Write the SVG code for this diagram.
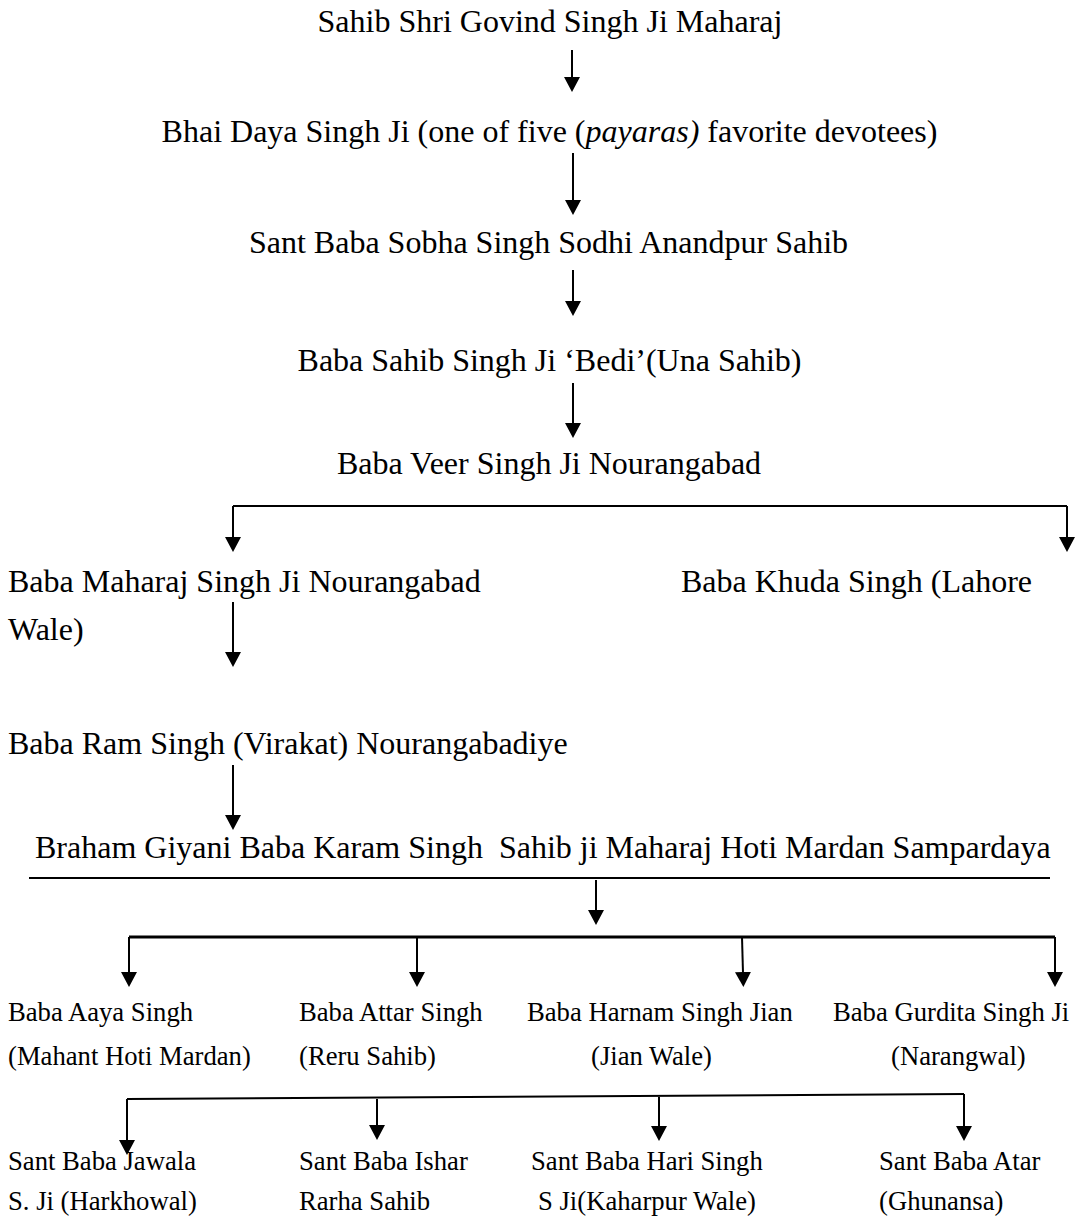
<svg xmlns="http://www.w3.org/2000/svg" width="1078" height="1217" viewBox="0 0 1078 1217">
<style>
  text { font-family: "Liberation Serif", "Times New Roman", serif; fill: #000; }
  .t { font-size: 32px; }
  .c { text-anchor: middle; }
  .s { font-size: 26.67px; }
  .ln { stroke: #000; stroke-width: 2; fill: none; }
  .ar { stroke: #000; stroke-width: 2; fill: none; marker-end: url(#ah); }
</style>
<defs>
  <marker id="ah" viewBox="0 0 15 16" refX="1" refY="8" markerWidth="15" markerHeight="16" markerUnits="userSpaceOnUse" orient="auto">
    <path d="M0,0 L15,8 L0,16 Z" fill="#000"/>
  </marker>
</defs>
<rect width="1078" height="1217" fill="#fff"/>

<g id="connectors">
  <path class="ar" d="M572,50 V78"/>
  <path class="ar" d="M573,153 V201"/>
  <path class="ar" d="M573,270 V302"/>
  <path class="ar" d="M573,383 V424"/>
  <path class="ln" d="M233,506 H1067"/>
  <path class="ar" d="M233,506 V538"/>
  <path class="ar" d="M1067,506 V538"/>
  <path class="ar" d="M233,602 V653"/>
  <path class="ar" d="M233,765 V816"/>
  <path class="ln" d="M29,878 H1050"/>
  <path class="ar" d="M596,880 V911"/>
  <path class="ln" d="M129,937 H1055" style="stroke-width:3"/>
  <path class="ar" d="M129,937 V973"/>
  <path class="ar" d="M417,937 V973"/>
  <path class="ar" d="M742,937 L743,973"/>
  <path class="ar" d="M1055,937 V973"/>
  <path class="ln" d="M127,1099 L964,1094"/>
  <path class="ar" d="M127,1099 V1141"/>
  <path class="ar" d="M377,1099 V1126"/>
  <path class="ar" d="M659,1097 V1127"/>
  <path class="ar" d="M964,1094 V1127"/>
</g>

<g id="n1"><text class="t c" x="550" y="32">Sahib Shri Govind Singh Ji Maharaj</text></g>
<g id="n2"><text class="t c" x="549.5" y="142">Bhai Daya Singh Ji (one of five (<tspan font-style="italic">payaras)</tspan> favorite devotees)</text></g>
<g id="n3"><text class="t c" x="548.5" y="253">Sant Baba Sobha Singh Sodhi Anandpur Sahib</text></g>
<g id="n4"><text class="t c" x="549.5" y="371">Baba Sahib Singh Ji ‘Bedi’(Una Sahib)</text></g>
<g id="n5"><text class="t c" x="549" y="474">Baba Veer Singh Ji Nourangabad</text></g>
<g id="n6">
  <text class="t" x="8" y="592">Baba Maharaj Singh Ji Nourangabad</text>
  <text class="t" x="8" y="640">Wale)</text>
</g>
<g id="n7"><text class="t" x="681" y="592">Baba Khuda Singh (Lahore</text></g>
<g id="n8"><text class="t" x="8" y="754">Baba Ram Singh (Virakat) Nourangabadiye</text></g>
<g id="n9"><text class="t" x="35" y="858" xml:space="preserve">Braham Giyani Baba Karam Singh  Sahib ji Maharaj Hoti Mardan Sampardaya</text></g>

<g id="n10">
  <text class="s" x="8" y="1021">Baba Aaya Singh</text>
  <text class="s" x="8" y="1065">(Mahant Hoti Mardan)</text>
</g>
<g id="n11">
  <text class="s" x="299" y="1021">Baba Attar Singh</text>
  <text class="s" x="299" y="1065">(Reru Sahib)</text>
</g>
<g id="n12">
  <text class="s" x="527" y="1021">Baba Harnam Singh Jian</text>
  <text class="s" x="591" y="1065">(Jian Wale)</text>
</g>
<g id="n13">
  <text class="s" x="833" y="1021">Baba Gurdita Singh Ji</text>
  <text class="s" x="891" y="1065">(Narangwal)</text>
</g>

<g id="n14">
  <text class="s" x="8" y="1170">Sant Baba Jawala</text>
  <text class="s" x="8" y="1210">S. Ji (Harkhowal)</text>
</g>
<g id="n15">
  <text class="s" x="299" y="1170">Sant Baba Ishar</text>
  <text class="s" x="299" y="1210">Rarha Sahib</text>
</g>
<g id="n16">
  <text class="s" x="531" y="1170">Sant Baba Hari Singh</text>
  <text class="s" x="538" y="1210">S Ji(Kaharpur Wale)</text>
</g>
<g id="n17">
  <text class="s" x="879" y="1170">Sant Baba Atar</text>
  <text class="s" x="879" y="1210">(Ghunansa)</text>
</g>
</svg>
